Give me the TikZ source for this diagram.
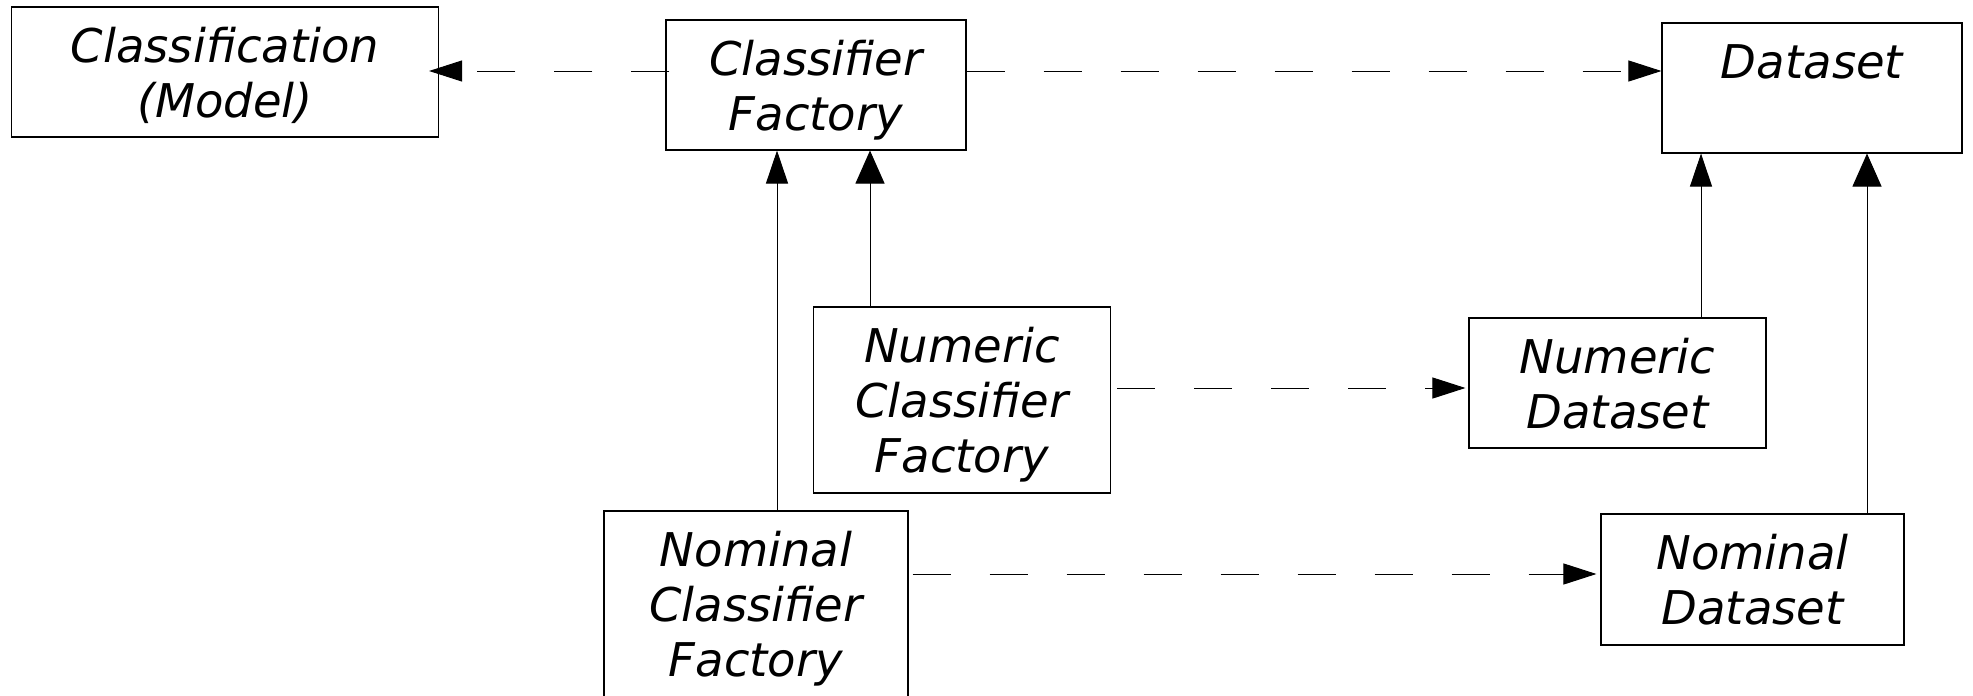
\documentclass[tikz,border=0pt]{standalone}
\usepackage{fontspec}
\setmainfont{DejaVu Sans}
\usetikzlibrary{arrows.meta}
\newcommand{\mytopstrut}{\rule{0pt}{46pt}}
\newcommand{\mybotstrut}{\rule[-11pt]{0pt}{11pt}}
\begin{document}
\begin{tikzpicture}[x=1pt,y=-1pt,
  box/.style={draw=black,line width=1.1pt,rectangle,inner sep=0pt,align=center,
    font=\fontsize{46.5}{55}\selectfont\itshape},
  dasharrow/.style={draw=black,line width=1pt,dash pattern=on 38pt off 39pt,
    -{Triangle[length=33pt,width=21pt]}},
  solidnarrow/.style={draw=black,line width=1pt,-{Triangle[length=33pt,width=22pt]}},
  solidwide/.style={draw=black,line width=1pt,-{Triangle[length=33pt,width=29pt]}}]
\useasboundingbox (0,0) rectangle (1973,696);
\clip (0,0) rectangle (1973,696);
\fill[white] (0,0) rectangle (1973,696);

\node[box,minimum width=427pt,minimum height=130pt] (cls) at (225,72) {\mytopstrut Classification\\(Model)\mybotstrut};
\node[box,minimum width=300pt,minimum height=130pt] (cf) at (816,85) {\mytopstrut Classifier\\Factory\mybotstrut};
\node[box,minimum width=300pt,minimum height=130pt] (ds) at (1812,88) {\mytopstrut Dataset\\\mbox{}\mybotstrut};
\node[box,minimum width=297pt,minimum height=186pt] (ncf) at (962,400) {\mytopstrut Numeric\\Classifier\\Factory\mybotstrut};
\node[box,minimum width=297pt,minimum height=130pt] (nds) at (1617.5,383) {\mytopstrut Numeric\\Dataset\mybotstrut};
\node[box,minimum width=304pt,minimum height=186pt] (mcf) at (756,604) {\mytopstrut Nominal\\Classifier\\Factory\mybotstrut};
\node[box,minimum width=303pt,minimum height=131pt] (mds) at (1752.5,579.5) {\mytopstrut Nominal\\Dataset\mybotstrut};

\coordinate (rowtop) at (0,71);
\coordinate (rownum) at (0,388);
\coordinate (rownom) at (0,574);
\coordinate (c1) at (777,0);
\coordinate (c2) at (870,0);
\coordinate (c3) at (1701,0);
\coordinate (c4) at (1867,0);

\draw[dasharrow,shorten <=-4pt,shorten >=-10pt] (cf.west |- rowtop) -- (cls.east |- rowtop);
\draw[dasharrow] (cf.east |- rowtop) -- (ds.west |- rowtop);
\draw[dasharrow,shorten <=6pt,shorten >=3pt] (ncf.east |- rownum) -- (nds.west |- rownum);
\draw[dasharrow,shorten <=4pt,shorten >=4pt] (mcf.east |- rownom) -- (mds.west |- rownom);

\draw[solidnarrow] (mcf.north -| c1) -- (cf.south -| c1);
\draw[solidwide] (ncf.north -| c2) -- (cf.south -| c2);
\draw[solidnarrow] (nds.north -| c3) -- (ds.south -| c3);
\draw[solidwide] (mds.north -| c4) -- (ds.south -| c4);
\end{tikzpicture}
\end{document}
